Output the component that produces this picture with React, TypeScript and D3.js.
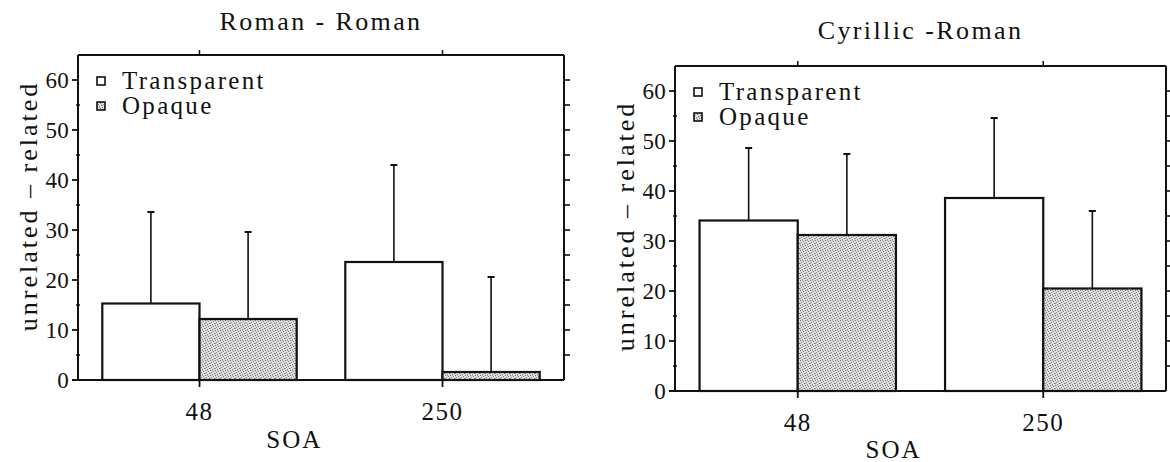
import * as d3 from "d3";

const soa = ["48", "250"];
const series = ["Transparent", "Opaque"];

// Roman - Roman
const romanTransparent = [15.3, 23.6];
const romanTransparentErr = [18.3, 19.4];
const romanOpaque = [12.2, 1.6];
const romanOpaqueErr = [17.4, 19.0];

// Cyrillic - Roman
const cyrTransparent = [34.1, 38.6];
const cyrTransparentErr = [14.5, 16.0];
const cyrOpaque = [31.2, 20.5];
const cyrOpaqueErr = [16.2, 15.5];

const yTicks = [0, 10, 20, 30, 40, 50, 60];
const yMinor = [5, 15, 25, 35, 45, 55];
const yMax = 65;

const FONT = "Liberation Serif, DejaVu Serif, serif";
const INK = "#111";

interface PanelProps {
  title: string;
  transparent: number[];
  transparentErr: number[];
  opaque: number[];
  opaqueErr: number[];
  left: number;
  right: number;
  top: number;
  bottom: number;
  titleY: number;
  labelY: number;
  soaY: number;
}

function Panel(p: PanelProps) {
  const x = d3
    .scaleBand<string>()
    .domain(soa)
    .range([p.left, p.right])
    .paddingInner(0.2)
    .paddingOuter(0.1);
  const sub = d3
    .scaleBand<string>()
    .domain(series)
    .range([0, x.bandwidth()]);
  const y = d3.scaleLinear().domain([0, yMax]).range([p.bottom, p.top]);
  const w = p.right - p.left;
  const midX = (p.left + p.right) / 2;
  const txt = { fontFamily: FONT };

  const bars = soa.flatMap((c, i) => [
    { c, s: "Transparent", v: p.transparent[i], e: p.transparentErr[i] },
    { c, s: "Opaque", v: p.opaque[i], e: p.opaqueErr[i] },
  ]);

  return (
    <g>
      <text
        x={midX}
        y={p.titleY}
        textAnchor="middle"
        style={txt}
        fontSize={26}
        letterSpacing={2.4}
        fill={INK}
      >
        {p.title}
      </text>

      {/* bars */}
      {bars.map((b) => {
        const bx = (x(b.c) ?? 0) + (sub(b.s) ?? 0);
        const bw = sub.bandwidth();
        const cx = bx + bw / 2;
        return (
          <g key={b.c + b.s}>
            <line
              x1={cx}
              x2={cx}
              y1={y(b.v)}
              y2={y(b.v + b.e)}
              stroke={INK}
              strokeWidth={1.6}
            />
            <line
              x1={cx - 3.5}
              x2={cx + 3.5}
              y1={y(b.v + b.e)}
              y2={y(b.v + b.e)}
              stroke={INK}
              strokeWidth={2}
            />
            <rect
              x={bx}
              y={y(b.v)}
              width={bw}
              height={y(0) - y(b.v)}
              fill={b.s === "Opaque" ? "url(#stipple)" : "#fff"}
              stroke={INK}
              strokeWidth={2.2}
            />
          </g>
        );
      })}

      {/* frame */}
      <line x1={p.left} x2={p.right} y1={p.top} y2={p.top} stroke={INK} strokeWidth={2} />
      <line x1={p.right} x2={p.right} y1={p.top} y2={p.bottom} stroke={INK} strokeWidth={2} />
      <line x1={p.left} x2={p.left} y1={p.top} y2={p.bottom} stroke={INK} strokeWidth={2} />
      <line x1={p.left - 6} x2={p.right} y1={p.bottom} y2={p.bottom} stroke={INK} strokeWidth={2} />

      {/* x ticks, top and bottom */}
      {soa.map((c) => {
        const tx = (x(c) ?? 0) + x.bandwidth() / 2;
        return (
          <g key={"t" + c}>
            <line x1={tx} x2={tx} y1={p.top} y2={p.top - 5} stroke={INK} strokeWidth={1.5} />
            <line x1={tx} x2={tx} y1={p.bottom} y2={p.bottom + 7} stroke={INK} strokeWidth={1.8} />
            <text
              x={tx}
              y={p.bottom + 40}
              textAnchor="middle"
              style={txt}
              fontSize={25}
              letterSpacing={1.5}
              fill={INK}
            >
              {c}
            </text>
          </g>
        );
      })}

      {/* y ticks */}
      {yTicks.map((t) => (
        <g key={"y" + t}>
          <line x1={p.left - 6} x2={p.left} y1={y(t)} y2={y(t)} stroke={INK} strokeWidth={1.8} />
          <text
            x={p.left - 9}
            y={y(t)}
            dy="0.35em"
            textAnchor="end"
            style={txt}
            fontSize={23}
            letterSpacing={0.3}
            fill={INK}
          >
            {t}
          </text>
        </g>
      ))}
      {yMinor.map((t) => (
        <line
          key={"m" + t}
          x1={p.left - 2}
          x2={p.left + 2}
          y1={y(t)}
          y2={y(t)}
          stroke={INK}
          strokeWidth={1.5}
        />
      ))}
      {yTicks
        .concat(yMinor)
        .filter((t) => t > 0)
        .map((t) => (
          <line
            key={"r" + t}
            x1={p.right}
            x2={p.right + 6}
            y1={y(t)}
            y2={y(t)}
            stroke={INK}
            strokeWidth={1.6}
          />
        ))}

      {/* axis titles */}
      <text
        x={midX - w * 0.055}
        y={p.soaY}
        textAnchor="middle"
        style={txt}
        fontSize={25}
        letterSpacing={2}
        fill={INK}
      >
        SOA
      </text>
      <text
        transform={`translate(${p.left - 41},${p.labelY}) rotate(-90)`}
        textAnchor="middle"
        style={txt}
        fontSize={26}
        letterSpacing={3}
        fill={INK}
      >
        unrelated – related
      </text>

      {/* legend */}
      {series.map((s, i) => (
        <g key={"l" + s} transform={`translate(${p.left + 19},${p.top + 22 + i * 25})`}>
          <rect
            x={0}
            y={0}
            width={8}
            height={8}
            fill={s === "Opaque" ? "url(#stipple)" : "#fff"}
            stroke={INK}
            strokeWidth={1.6}
          />
          <text x={25} y={12} style={txt} fontSize={25} letterSpacing={2.3} fill={INK}>
            {s}
          </text>
        </g>
      ))}
    </g>
  );
}

export default function App() {
  return (
    <svg
      width={1170}
      height={462}
      style={{ position: "absolute", left: 0, top: 0, background: "#fff" }}
    >
      <defs>
        <pattern id="stipple" width={5} height={5} patternUnits="userSpaceOnUse">
          <rect width={5} height={5} fill="#e0e0e0" />
          <rect x={0} y={0} width={1} height={1} fill="#6a6a6a" />
          <rect x={3} y={1} width={1} height={1} fill="#7a7a7a" />
          <rect x={1} y={2} width={1} height={1} fill="#858585" />
          <rect x={4} y={3} width={1} height={1} fill="#727272" />
          <rect x={2} y={4} width={1} height={1} fill="#8a8a8a" />
          <rect x={2} y={0} width={1} height={1} fill="#a8a8a8" />
          <rect x={0} y={3} width={1} height={1} fill="#a0a0a0" />
        </pattern>
      </defs>
      <Panel
        title="Roman - Roman"
        transparent={romanTransparent}
        transparentErr={romanTransparentErr}
        opaque={romanOpaque}
        opaqueErr={romanOpaqueErr}
        left={78}
        right={564}
        top={55}
        bottom={380}
        titleY={30}
        labelY={206}
        soaY={448}
      />
      <Panel
        title="Cyrillic -Roman"
        transparent={cyrTransparent}
        transparentErr={cyrTransparentErr}
        opaque={cyrOpaque}
        opaqueErr={cyrOpaqueErr}
        left={675}
        right={1166}
        top={66}
        bottom={391}
        titleY={39}
        labelY={226}
        soaY={458}
      />
    </svg>
  );
}
